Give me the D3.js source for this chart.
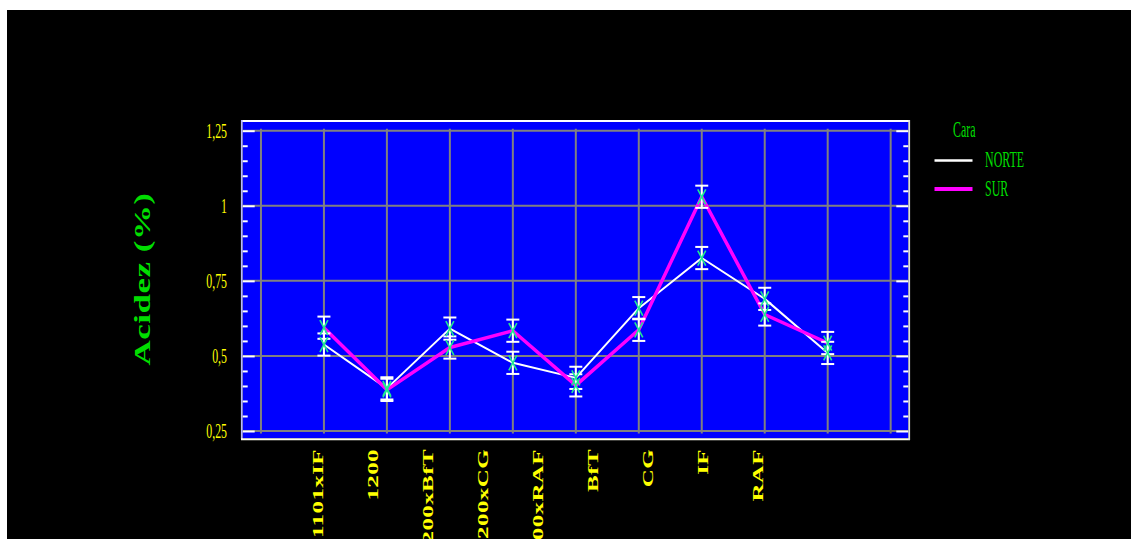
<!DOCTYPE html>
<html>
<head>
<meta charset="utf-8">
<script src="https://cdn.jsdelivr.net/npm/d3@7/dist/d3.min.js"></script>
<style>
  html, body { margin: 0; padding: 0; background: #ffffff; }
  svg { display: block; }
</style>
</head>
<body>
<svg id="chart" width="1131" height="539"></svg>
<script>
// ---- data ----
const categories = ["1101xIF", "1200", "1200xBfT", "1200xCG", "1200xRAF", "BfT", "CG", "IF", "RAF"];
const norteMeans = [0.538, 0.392, 0.591, 0.477, 0.427, 0.659, 0.826, 0.690, 0.510];
const surMeans   = [0.594, 0.387, 0.528, 0.584, 0.402, 0.587, 1.030, 0.638, 0.543];
const intervalHalfWidth = 0.037;
const yTickValues = [0.25, 0.5, 0.75, 1, 1.25];
const yTickLabels = ["0,25", "0,5", "0,75", "1", "1,25"];
const seriesNames = ["NORTE", "SUR"];
const legendTitle = "Cara";
const yTitle = "Acidez (%)";

// ---- layout ----
const svg = d3.select("#chart");
const W = 1131, H = 539;
const plot = { left: 242.7, right: 908.3, top: 122, bottom: 438.3 };

svg.append("rect").attr("x", 7).attr("y", 10).attr("width", W - 7).attr("height", H - 10).attr("fill", "#000000");

const x = d3.scaleLinear().domain([-0.29, 10.28]).range([plot.left, plot.right]);
const y = d3.scaleLinear().domain([0.2257, 1.2790]).range([plot.bottom, plot.top]);
const xLabel = d3.scalePoint().domain(categories).range([323.3, 763]);

// plot background + frame
svg.append("rect").attr("x", plot.left).attr("y", plot.top)
  .attr("width", plot.right - plot.left).attr("height", plot.bottom - plot.top).attr("fill", "#0000ff");
svg.append("line").attr("x1", 241).attr("x2", 910).attr("y1", 121).attr("y2", 121).attr("stroke", "#ffffff").attr("stroke-width", 2);
svg.append("line").attr("x1", 241.8).attr("x2", 241.8).attr("y1", 120).attr("y2", 439).attr("stroke", "#b8b8ff").attr("stroke-width", 1.8);
svg.append("line").attr("x1", 241).attr("x2", 910).attr("y1", 439.3).attr("y2", 439.3).attr("stroke", "#fffff0").attr("stroke-width", 2);
svg.append("line").attr("x1", 909.2).attr("x2", 909.2).attr("y1", 120).attr("y2", 440).attr("stroke", "#e0e0e0").attr("stroke-width", 1.8);

// grid
const gridX = d3.range(0, 11);
svg.append("g").selectAll("line").data(gridX).join("line")
  .attr("x1", d => x(d)).attr("x2", d => x(d))
  .attr("y1", y(1.25) - 2).attr("y2", y(0.25) + 2.5)
  .attr("stroke", "#808080").attr("stroke-width", 2);
svg.append("g").selectAll("line").data(yTickValues).join("line")
  .attr("x1", plot.left).attr("x2", plot.right)
  .attr("y1", d => y(d)).attr("y2", d => y(d))
  .attr("stroke", "#808080").attr("stroke-width", 2);

// ticks (left and right, inside)
const minorTicks = d3.range(0.25, 1.2501, 0.05).filter(v => !yTickValues.some(t => Math.abs(t - v) < 1e-6));
function tickAxis(axisFn, size, values, tx) {
  const g = svg.append("g").attr("transform", `translate(${tx},0)`)
    .call(axisFn(y).tickValues(values).tickSize(size).tickFormat(""));
  g.select(".domain").remove();
  g.selectAll(".tick line").attr("stroke", "#ffffff").attr("stroke-width", 2);
}
tickAxis(d3.axisRight, 12, yTickValues, plot.left);
tickAxis(d3.axisRight, 5, minorTicks, plot.left);
tickAxis(d3.axisLeft, 12, yTickValues, plot.right);
tickAxis(d3.axisLeft, 5, minorTicks, plot.right);

// y tick labels
svg.append("g").selectAll("text").data(yTickValues).join("text")
  .attr("transform", d => `translate(227,${y(d) + 7}) scale(0.54,1)`)
  .attr("text-anchor", "end")
  .attr("font-family", "Liberation Serif, serif").attr("font-size", 22)
  .attr("fill", "#ffff00")
  .text((d, i) => yTickLabels[i]);

// x tick labels
svg.append("g").selectAll("text").data(categories).join("text")
  .attr("transform", d => `translate(${xLabel(d)},449) rotate(-90) scale(1,0.6)`)
  .attr("text-anchor", "end")
  .attr("font-family", "Liberation Serif, serif").attr("font-size", 25).attr("font-weight", "bold")
  .attr("letter-spacing", 0.4)
  .attr("fill", "#ffff00")
  .text(d => d);

// y title
svg.append("text")
  .attr("transform", "translate(150,279) rotate(-90) scale(1,0.65)")
  .attr("text-anchor", "middle")
  .attr("font-family", "Liberation Serif, serif").attr("font-size", 35).attr("font-weight", "bold")
  .attr("letter-spacing", 0.5)
  .attr("fill", "#00dd00")
  .text(yTitle);

// series
const series = [
  { name: seriesNames[0], values: norteMeans, color: "#ffffff", width: 2 },
  { name: seriesNames[1], values: surMeans, color: "#ff00ff", width: 3.5 }
];
const line = d3.line().x((d, i) => x(i + 1)).y(d => y(d));
series.forEach(s => {
  svg.append("path").datum(s.values).attr("d", line)
    .attr("fill", "none").attr("stroke", s.color).attr("stroke-width", s.width)
    .attr("stroke-linejoin", "round");
});

// error bars
series.forEach(s => {
  const g = svg.append("g").attr("stroke", "#ffffff").attr("stroke-width", 2);
  s.values.forEach((v, i) => {
    const cx = x(i + 1);
    const y0 = y(v - intervalHalfWidth), y1 = y(v + intervalHalfWidth);
    g.append("line").attr("x1", cx).attr("x2", cx).attr("y1", y0).attr("y2", y1);
    g.append("line").attr("x1", cx - 6.5).attr("x2", cx + 6.5).attr("y1", y0).attr("y2", y0);
    g.append("line").attr("x1", cx - 6.5).attr("x2", cx + 6.5).attr("y1", y1).attr("y2", y1);
  });
});

// markers
series.forEach(s => {
  const g = svg.append("g").attr("stroke", "#20e890").attr("stroke-width", 1.6);
  s.values.forEach((v, i) => {
    const cx = x(i + 1), cy = y(v);
    g.append("line").attr("x1", cx - 4).attr("x2", cx + 4).attr("y1", cy - 7.5).attr("y2", cy + 7.5);
    g.append("line").attr("x1", cx - 4).attr("x2", cx + 4).attr("y1", cy + 7.5).attr("y2", cy - 7.5);
  });
});

// legend
svg.append("text")
  .attr("transform", "translate(953,137) scale(0.52,1)")
  .attr("font-family", "Liberation Serif, serif").attr("font-size", 23)
  .attr("fill", "#00dd00").text(legendTitle);
const legendY = [160.5, 189];
const legendTextY = [166.7, 196];
series.forEach((s, i) => {
  svg.append("line").attr("x1", 934.5).attr("x2", 972.5)
    .attr("y1", legendY[i]).attr("y2", legendY[i])
    .attr("stroke", s.color).attr("stroke-width", i === 0 ? 2.3 : 4);
  svg.append("text")
    .attr("transform", `translate(985,${legendTextY[i]}) scale(0.52,1)`)
    .attr("font-family", "Liberation Serif, serif").attr("font-size", 23)
    .attr("fill", "#00dd00").text(s.name);
});
</script>
</body>
</html>
